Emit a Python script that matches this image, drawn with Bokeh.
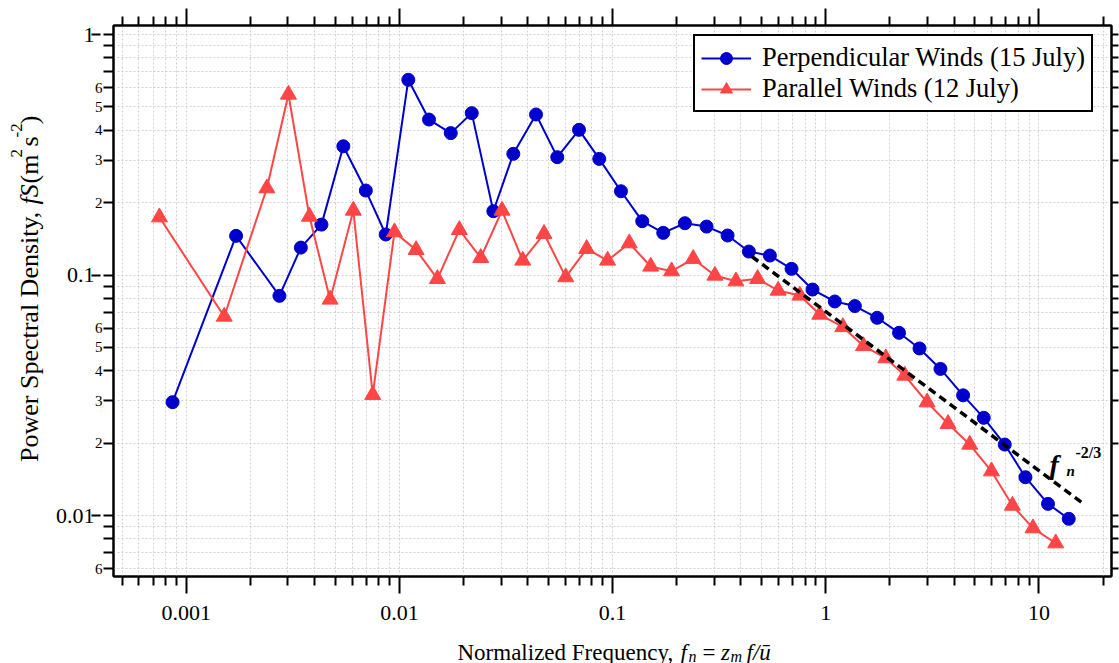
import math
from bokeh.plotting import figure
from bokeh.layouts import row, column
from bokeh.models import (Range1d, LogAxis, FixedTicker, Label, Legend, LegendItem,
                          CustomJSTickFormatter)
from bokeh.core.properties import value
from bokeh.embed import file_html
from bokeh.resources import INLINE

# ---------------- data ----------------
perp_fn = [0.000863, 0.001714, 0.002737, 0.00345, 0.00431, 0.00546, 0.00696, 0.00863,
           0.01101, 0.01377, 0.01742, 0.02185, 0.02759, 0.03423, 0.04375, 0.05505,
           0.0696, 0.0866, 0.1095, 0.1378, 0.1729, 0.2184, 0.2761, 0.3464, 0.436,
           0.547, 0.691, 0.867, 1.103, 1.369, 1.742, 2.207, 2.753, 3.452, 4.409,
           5.511, 6.914, 8.644, 11.03, 13.80]
perp_fS = [0.0296, 0.1455, 0.0819, 0.130, 0.162, 0.343, 0.2245, 0.1474,
           0.648, 0.443, 0.389, 0.471, 0.1842, 0.319, 0.465, 0.309,
           0.4015, 0.304, 0.223, 0.1674, 0.1497, 0.1642, 0.159, 0.146, 0.1252,
           0.1205, 0.1061, 0.0870, 0.0776, 0.0743, 0.0664, 0.0575, 0.0495, 0.0407, 0.0316,
           0.02548, 0.01973, 0.01443, 0.01118, 0.00969]

par_fn = [0.000749, 0.001508, 0.00239, 0.003017, 0.003785, 0.004732, 0.00608, 0.0075,
          0.00948, 0.01198, 0.01508, 0.01911, 0.02408, 0.0303, 0.0379, 0.0477,
          0.0603, 0.0756, 0.0948, 0.1198, 0.151, 0.1892, 0.2389, 0.302, 0.379,
          0.479, 0.598, 0.756, 0.938, 1.203, 1.504, 1.913, 2.349, 2.988, 3.748,
          4.737, 5.99, 7.51, 9.38, 11.99]
par_fS = [0.1739, 0.0672, 0.2296, 0.563, 0.175, 0.0791, 0.1854, 0.03176,
          0.1507, 0.1272, 0.0964, 0.154, 0.1179, 0.1854, 0.1149, 0.1484,
          0.098, 0.1285, 0.1149, 0.1356, 0.1085, 0.1037, 0.1168, 0.0995, 0.0942,
          0.0964, 0.0862, 0.0822, 0.0685, 0.0608, 0.0507, 0.0451, 0.0382, 0.02958, 0.02406,
          0.01973, 0.01528, 0.011, 0.00886, 0.00767]

ref_fn = [0.45, 15.8]          # -2/3 reference slope line end points
ref_fS = [0.1194, 0.01136]

series_labels = ["Perpendicular Winds (15 July)", "Parallel Winds (12 July)"]

x_major_ticks = [0.001, 0.01, 0.1, 1, 10]
y_major_ticks = [0.01, 0.1, 1]
y_minor_label_vals = [0.006, 0.02, 0.03, 0.04, 0.05, 0.06, 0.2, 0.3, 0.4, 0.5, 0.6]
y_minor_label_txt = ["6", "2", "3", "4", "5", "6", "2", "3", "4", "5", "6"]

# ---------------- styling ----------------
X_MIN, X_MAX = 0.000456, 21.9
Y_MIN, Y_MAX = 0.005578, 1.09
BLUE = "#0000CC"
RED = "#FF4545"
SERIF = "Liberation Serif"
GRID = "#d0d0d0"
YW = 48            # width of the strip holding the y title
MAIN_H = 630       # height of the main figure
XH = 663 - MAIN_H  # height of the strip holding the x title

x_minor_ticks = [m * 10.0 ** e for e in range(-4, 2) for m in range(2, 10)
                 if X_MIN < m * 10.0 ** e < X_MAX]
y_all_minor = [m * 10.0 ** e for e in range(-3, 1) for m in range(2, 10)
               if Y_MIN < m * 10.0 ** e < Y_MAX]
y_unlabeled = [v for v in y_all_minor
               if not any(abs(v / k - 1) < 1e-9 for k in y_minor_label_vals)]

xt = FixedTicker(ticks=x_major_ticks, minor_ticks=x_minor_ticks)
yt = FixedTicker(ticks=y_major_ticks, minor_ticks=y_all_minor)
yt_inner = FixedTicker(ticks=y_major_ticks + y_minor_label_vals, minor_ticks=y_unlabeled)
yt_outer = FixedTicker(ticks=y_major_ticks, minor_ticks=[])

p = figure(width=1119 - YW, height=MAIN_H, x_axis_type="log", y_axis_type="log",
           x_range=Range1d(X_MIN, X_MAX), y_range=Range1d(Y_MIN, Y_MAX),
           y_axis_location=None,
           output_backend="svg", toolbar_location=None,
           min_border_left=113 - YW, min_border_right=8, min_border_top=25,
           min_border_bottom=MAIN_H - 576,
           background_fill_color="white", border_fill_color="white")
p.outline_line_color = "black"
p.outline_line_width = 2


def style_axis(ax, ticker, font="22px", tick_major=17, tick_minor=9, standoff=3,
               formatter=None, tick_in=0):
    ax.ticker = ticker
    ax.axis_line_color = "black"
    ax.axis_line_width = 2
    ax.major_tick_line_color = "black"
    ax.minor_tick_line_color = "black"
    ax.major_tick_line_width = 2
    ax.minor_tick_line_width = 2
    ax.major_tick_in = tick_in
    ax.minor_tick_in = 0
    ax.major_tick_out = tick_major
    ax.minor_tick_out = tick_minor
    ax.major_label_text_font = SERIF
    ax.major_label_text_color = "black"
    ax.major_label_text_font_size = font
    ax.major_label_standoff = standoff
    ax.formatter = formatter or CustomJSTickFormatter(code="return String(tick)")


blank = CustomJSTickFormatter(code="return ''")

style_axis(p.below[0], xt, standoff=12)

# inner left axis: small mantissa labels next to the frame
inner = LogAxis()
style_axis(inner, yt_inner, font="15px", tick_major=10, tick_minor=10, standoff=1,
           formatter=CustomJSTickFormatter(
               args=dict(keys=y_minor_label_vals, vals=y_minor_label_txt),
               code="for (let i = 0; i < keys.length; i++) {"
                    " if (Math.abs(keys[i] / tick - 1) < 1e-6) return vals[i]; }"
                    " return '';"))
p.add_layout(inner, "left")
# outer left axis: decade labels, its inward ticks lengthen the decade ticks
outer = LogAxis()
style_axis(outer, yt_outer, tick_major=0, tick_minor=0, standoff=-3, tick_in=9)
outer.axis_line_color = None
p.add_layout(outer, "left")

top_ax = LogAxis()
style_axis(top_ax, xt, font="1px", standoff=0, formatter=blank)
p.add_layout(top_ax, "above")
right_ax = LogAxis()
style_axis(right_ax, yt, font="1px", tick_major=7, tick_minor=7, standoff=0, formatter=blank)
p.add_layout(right_ax, "right")

p.xgrid[0].ticker = xt
p.ygrid[0].ticker = yt
for g in (p.xgrid[0], p.ygrid[0]):
    g.grid_line_color = GRID
    g.grid_line_dash = "2 2"
    g.grid_line_width = 1
    g.minor_grid_line_color = GRID
    g.minor_grid_line_dash = "2 2"
    g.minor_grid_line_width = 1

# ---------------- data glyphs ----------------
bl = p.line(perp_fn, perp_fS, line_color=BLUE, line_width=2)
bs = p.scatter(perp_fn, perp_fS, marker="circle", size=13, fill_color=BLUE, line_color=BLUE)
rl = p.line(par_fn, par_fS, line_color=RED, line_width=2)
rs = p.scatter(par_fn, par_fS, marker="triangle", size=16, fill_color=RED, line_color=RED)
p.line(ref_fn, ref_fS, line_color="black", line_width=3.5, line_dash="8 5")

# ---------------- legend ----------------
legend = Legend(items=[LegendItem(label=series_labels[0], renderers=[bl, bs]),
                       LegendItem(label=series_labels[1], renderers=[rl, rs])],
                location=(580, 464), label_text_font=SERIF, label_text_font_size="26.5px",
                label_text_color="black", glyph_width=50, glyph_height=30, label_height=24,
                label_standoff=11, padding=6, spacing=-10, margin=0,
                border_line_color="black", border_line_width=2, border_line_alpha=1,
                background_fill_color="white", background_fill_alpha=1)
p.add_layout(legend)

# ---------------- slope annotation (inside the frame) ----------------
FL, FB = 113, 576   # frame left / bottom on the page


def lab(text, cx, cy, size, style="normal"):
    p.add_layout(Label(x=cx - FL, y=FB - cy, x_units="screen", y_units="screen",
                       text=text, text_font=SERIF, text_font_size=size,
                       text_font_style=style, text_color="black"))


lab("f", 1049, 479, "28px", "bold italic")
lab("n", 1066, 478, "15px", "bold italic")
lab("-2/3", 1075, 460, "16px", "bold")


# ---------------- title strips ----------------
def strip(w, h):
    f = figure(width=w, height=h, x_range=Range1d(0, w), y_range=Range1d(h, 0),
               x_axis_location=None, y_axis_location=None, output_backend="svg",
               toolbar_location=None, min_border=0, outline_line_color=None,
               background_fill_color="white", border_fill_color="white")
    f.xgrid.visible = False
    f.ygrid.visible = False
    return f


# x title: pieces positioned left to right (page x, baseline)
xs = strip(1119, XH)
XB = 652 - MAIN_H
x_title = [("Normalized Frequency,", 457, XB, "23px", "normal"),
           ("f", 680, XB, "23px", "italic"),
           ("n", 688, XB + 4, "16px", "italic"),
           ("=", 702, XB, "23px", "normal"),
           ("z", 720.5, XB, "23px", "italic"),
           ("m", 730, XB + 4, "16px", "italic"),
           ("f/\u016b", 746, XB, "23px", "italic")]
for t, x, y, s, st in x_title:
    xs.text(x=[x], y=[y], text=[t], text_font=value(SERIF), text_font_size=s,
            text_font_style=st, text_color="black", text_baseline="alphabetic",
            text_align="left")

# y title: rotated pieces, each anchored at its centre (x centre, page y centre)
ys = strip(YW, MAIN_H)
YC, SC = 29, 15.5
y_title = [("Power Spectral Density,", YC, 356, "26px", "normal"),
           ("fS", YC, 193, "26px", "italic"),
           ("(m", YC, 164, "26px", "normal"),
           ("2", SC, 146, "17px", "normal"),
           ("s", YC, 132.5, "26px", "normal"),
           ("-2", SC, 120, "17px", "normal"),
           (")", YC, 108, "26px", "normal")]
for t, x, y, s, st in y_title:
    ys.text(x=[x], y=[y], text=[t], text_font=value(SERIF), text_font_size=s,
            text_font_style=st, text_color="black", text_baseline="middle",
            text_align="center", angle=math.pi / 2)

layout = column(row(ys, p), xs)
open("out.html", "w").write(file_html(layout, INLINE))
